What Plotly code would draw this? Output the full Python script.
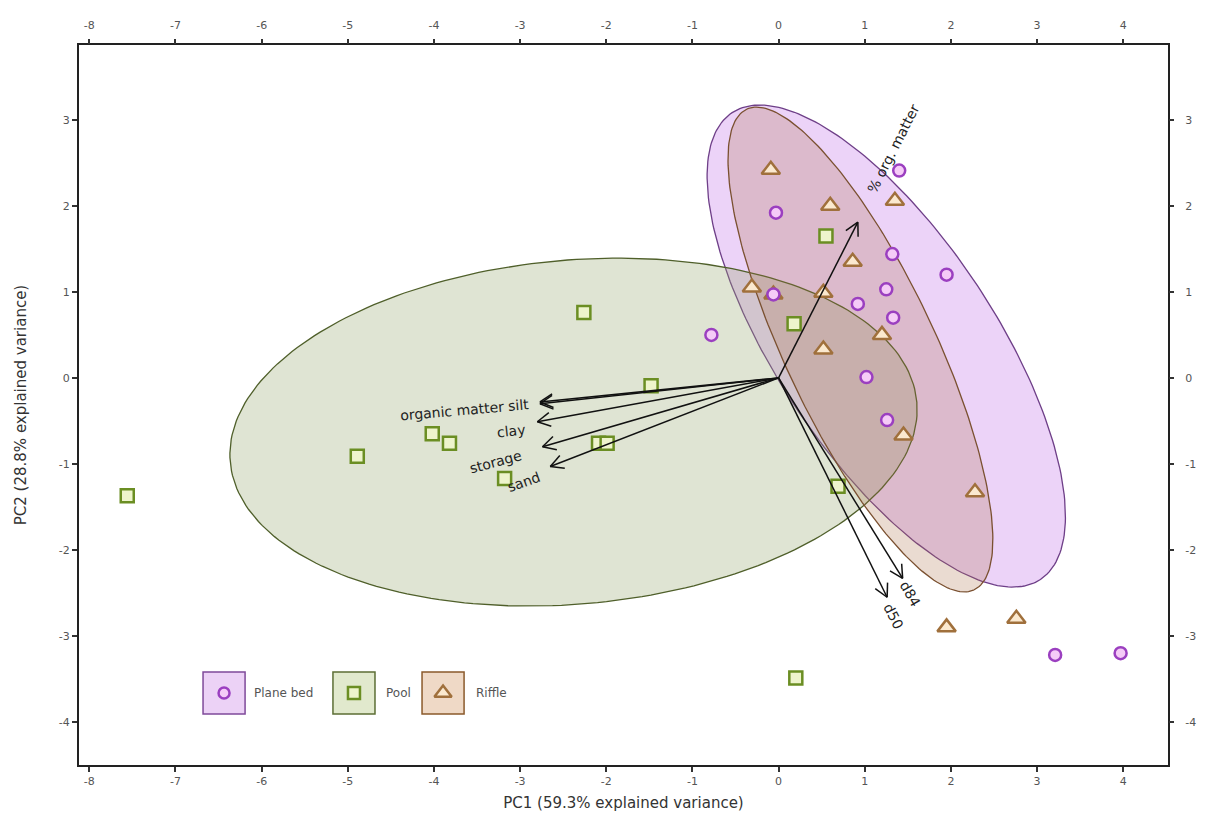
import numpy as np
import plotly.graph_objects as go

# ---------------- data ----------------
groups = ["Plane bed", "Pool", "Riffle"]

plane_x = [1.40, -0.03, 1.95, 1.32, 1.25, 1.33, 0.92, -0.06, -0.78, 1.02, 1.26, 3.21, 3.97]
plane_y = [2.41, 1.92, 1.20, 1.44, 1.03, 0.70, 0.86, 0.97, 0.50, 0.01, -0.49, -3.22, -3.20]

pool_x = [-7.56, -4.89, -4.02, -3.82, -2.26, -1.48, -2.09, -1.99, -3.18, 0.55, 0.18, 0.69, 0.20]
pool_y = [-1.37, -0.91, -0.65, -0.76, 0.76, -0.09, -0.76, -0.76, -1.17, 1.65, 0.63, -1.26, -3.49]

riffle_x = [-0.09, 0.60, 1.35, 0.86, -0.31, -0.06, 0.52, 0.52, 1.20, 1.45, 2.28, 1.95, 2.76]
riffle_y = [2.42, 2.00, 2.06, 1.35, 1.05, 0.97, 0.99, 0.33, 0.50, -0.67, -1.33, -2.90, -2.80]

# group ellipses (centre x, centre y, semi-major, semi-minor, angle deg)
ell_cx = [1.25, -2.38, 0.95]
ell_cy = [0.37, -0.63, 0.33]
ell_a = [3.25, 4.00, 3.09]
ell_b = [1.27, 2.00, 0.87]
ell_ang = [-56.6, 5.0, -64.7]

# variable loadings (arrow tips)
load_names = ["organic matter", "silt", "clay", "storage", "sand", "% org. matter", "d84", "d50"]
load_x = [-2.77, -2.77, -2.80, -2.74, -2.65, 0.92, 1.44, 1.26]
load_y = [-0.28, -0.30, -0.51, -0.80, -1.03, 1.81, -2.33, -2.55]
label_x = [-3.79, -3.02, -3.11, -3.29, -2.96, 1.33, 1.53, 1.33]
label_y = [-0.38, -0.31, -0.62, -0.98, -1.21, 2.66, -2.51, -2.77]
label_angle = [-5, -5, -6, -15, -20, -63, 60, 63]

x_ticks = list(range(-8, 5))
x_ticktext = [str(v) for v in x_ticks]
y_ticks = list(range(-4, 4))
y_ticktext = [str(v) for v in y_ticks]
x_title = "PC1 (59.3% explained variance)"
y_title = "PC2 (28.8% explained variance)"

# ---------------- styles ----------------
ell_fill = ["rgba(200,130,235,0.35)", "rgba(150,165,110,0.30)", "rgba(170,110,70,0.25)"]
ell_line = ["#6e3f88", "#4f5f2a", "#7a5030"]
mk_symbol = ["circle", "square", "triangle-up"]
mk_size = [12, 13, 16]
mk_fill = ["#f5cbf7", "#eef4cc", "#fbe9cf"]
mk_line = ["#9b3fc0", "#6b8e23", "#a0703c"]
box_fill = ["#ecd2f6", "#e1e9cd", "#efd9c6"]
box_line = ["#7f4a9a", "#5c6e35", "#8b5a2b"]

XR = [-8.12, 4.52]
YR = [-4.5, 3.87]

fig = go.Figure()

# ellipses
t = np.linspace(0, 2 * np.pi, 241)
for i, g in enumerate(groups):
    th = np.deg2rad(ell_ang[i])
    ex = ell_cx[i] + ell_a[i] * np.cos(th) * np.cos(t) - ell_b[i] * np.sin(th) * np.sin(t)
    ey = ell_cy[i] + ell_a[i] * np.sin(th) * np.cos(t) + ell_b[i] * np.cos(th) * np.sin(t)
    fig.add_trace(go.Scatter(x=ex, y=ey, mode="lines", fill="toself",
                             fillcolor=ell_fill[i], line=dict(color=ell_line[i], width=1.3),
                             hoverinfo="skip", showlegend=False))

# points (pool, riffle, plane bed on top)
pts = {0: (plane_x, plane_y), 1: (pool_x, pool_y), 2: (riffle_x, riffle_y)}
for i in [1, 2, 0]:
    px, py = pts[i]
    fig.add_trace(go.Scatter(x=px, y=py, mode="markers", name=groups[i],
                             marker=dict(symbol=mk_symbol[i], size=mk_size[i], color=mk_fill[i],
                                         line=dict(color=mk_line[i], width=2.5)),
                             showlegend=False))

# arrows
ax_, ay_ = [], []
h, phi = 0.17, np.deg2rad(28)
for lx, ly in zip(load_x, load_y):
    ax_ += [0, lx, None]
    ay_ += [0, ly, None]
    L = np.hypot(lx, ly)
    ux, uy = lx / L, ly / L
    nx, ny = -uy, ux
    for s in (1, -1):
        bx = lx - h * (ux * np.cos(phi) + s * nx * np.sin(phi))
        by = ly - h * (uy * np.cos(phi) + s * ny * np.sin(phi))
        ax_ += [lx, bx, None]
        ay_ += [ly, by, None]
fig.add_trace(go.Scatter(x=ax_, y=ay_, mode="lines", line=dict(color="#111", width=1.5),
                         hoverinfo="skip", showlegend=False))

for n, lx, ly, ang in zip(load_names, label_x, label_y, label_angle):
    fig.add_annotation(x=lx, y=ly, text=n, showarrow=False, textangle=ang,
                       font=dict(family="DejaVu Sans", size=14, color="#222"))

# dummy trace for top / right axes
fig.add_trace(go.Scatter(x=[None], y=[None], xaxis="x2", yaxis="y2", showlegend=False, hoverinfo="skip"))

# legend (manual boxed keys)
leg_cx = [0.1332, 0.2525, 0.3343]
leg_tx = [0.1589, 0.2801, 0.3627]
leg_cy = 0.10
hw, hh = 0.0193, 0.0292
for i, g in enumerate(groups):
    fig.add_shape(type="rect", xref="paper", yref="paper",
                  x0=leg_cx[i] - hw, x1=leg_cx[i] + hw, y0=leg_cy - hh, y1=leg_cy + hh,
                  fillcolor=box_fill[i], line=dict(color=box_line[i], width=1.5), layer="below")
    fig.add_trace(go.Scatter(x=[leg_cx[i]], y=[leg_cy], xaxis="x3", yaxis="y3", mode="markers",
                             marker=dict(symbol=mk_symbol[i], size=mk_size[i] - 1, color=mk_fill[i],
                                         line=dict(color=mk_line[i], width=2.5)),
                             showlegend=False, hoverinfo="skip"))
    fig.add_annotation(x=leg_tx[i], y=leg_cy, xref="paper", yref="paper", text=g,
                       showarrow=False, xanchor="left", yanchor="middle",
                       font=dict(family="DejaVu Sans", size=12, color="#555"))

tickfont = dict(family="DejaVu Sans", size=11, color="#555")
common = dict(showgrid=False, zeroline=False, ticks="outside", ticklen=5, tickwidth=1.5,
              tickcolor="#333", tickfont=tickfont)

fig.update_layout(
    width=1203, height=817,
    margin=dict(l=71, r=43, t=37, b=60),
    paper_bgcolor="white", plot_bgcolor="white",
    showlegend=False,
    xaxis=dict(range=XR, tickvals=x_ticks, ticktext=x_ticktext, showline=True, linecolor="#222",
               linewidth=2, mirror=True,
               title=dict(text=x_title, font=dict(family="DejaVu Sans", size=15, color="#333"),
                          standoff=10), **common),
    yaxis=dict(range=YR, tickvals=y_ticks, ticktext=y_ticktext, showline=True, linecolor="#222",
               linewidth=2, mirror=True,
               title=dict(text=y_title, font=dict(family="DejaVu Sans", size=15, color="#333"),
                          standoff=29), **common),
    xaxis2=dict(range=XR, tickvals=x_ticks, ticktext=x_ticktext, overlaying="x", side="top",
                showline=False, ticklabelstandoff=6, **common),
    yaxis2=dict(range=YR, tickvals=y_ticks, ticktext=y_ticktext, overlaying="y", side="right",
                showline=False, ticklabelstandoff=9, **common),
    xaxis3=dict(range=[0, 1], overlaying="x", visible=False),
    yaxis3=dict(range=[0, 1], overlaying="y", visible=False),
)

fig.write_html("out.html")
